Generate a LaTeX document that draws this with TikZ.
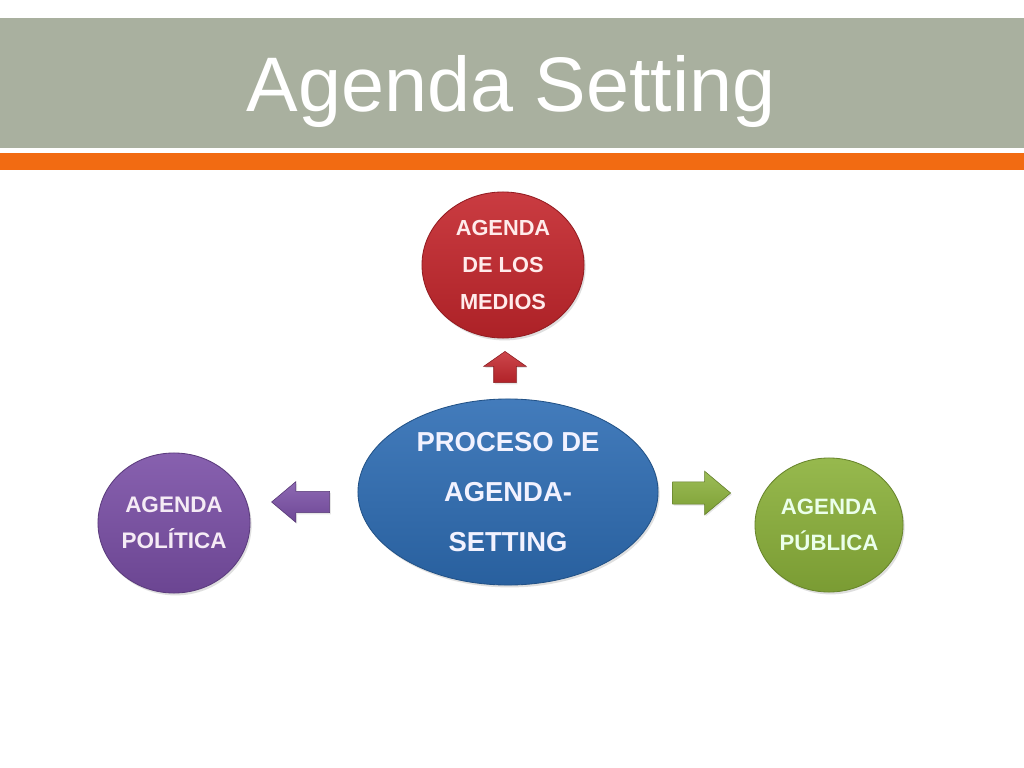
\documentclass[tikz,border=0pt]{standalone}
\usepackage{fontspec}
\setmainfont{Liberation Sans}
\usetikzlibrary{shapes.geometric,shapes.arrows,shadows}

\definecolor{barGray}{RGB}{169,176,159}
\definecolor{barOrange}{RGB}{242,107,18}
\definecolor{medRed}{RGB}{196,38,44}
\definecolor{procBlue}{RGB}{46,109,180}
\definecolor{polPurple}{RGB}{122,79,166}
\definecolor{pubGreen}{RGB}{139,177,58}

\begin{document}
\begin{tikzpicture}[x=0.025cm,y=-0.025cm,
  bubble/.style={ellipse,inner sep=0pt,align=center,font=\bfseries,
    draw=#1!75!black,line width=0.6pt,
    top color=#1!90!white,bottom color=#1!88!black,
    drop shadow={opacity=0.25,shadow xshift=0.04cm,shadow yshift=-0.06cm}},
  blockarrow/.style={single arrow,draw=#1!70!black,line width=0.4pt,
    top color=#1!85!white,bottom color=#1!90!black,
    drop shadow={opacity=0.2,shadow xshift=0.03cm,shadow yshift=-0.04cm}}]

  \useasboundingbox (0,0) rectangle (1024,768);
  \fill[white] (0,0) rectangle (1024,768);

  % title band
  \fill[barGray] (0,18) rectangle (1024,148);
  \fill[barOrange] (0,153) rectangle (1024,170);
  \node[anchor=base,text=white,font=\fontsize{55}{55}\selectfont] (title) at (511,112) {Agenda Setting};

  % bubbles
  \node[bubble=medRed,minimum width=4.05cm,minimum height=3.65cm,text=red!8!white,
        font=\bfseries\fontsize{15.5}{26}\selectfont] (medios) at (503,265)
        {AGENDA\\DE LOS\\MEDIOS};
  \node[bubble=procBlue,minimum width=7.5cm,minimum height=4.65cm,text=blue!5!white,
        font=\bfseries\fontsize{19.5}{35.5}\selectfont] (proceso) at (508,492)
        {PROCESO DE\\AGENDA-\\SETTING};
  \node[bubble=polPurple,minimum width=3.8cm,minimum height=3.5cm,text=violet!8!white,
        font=\bfseries\fontsize{16}{25.5}\selectfont] (politica) at (174,523)
        {AGENDA\\POLÍTICA};
  \node[bubble=pubGreen,minimum width=3.7cm,minimum height=3.35cm,text=green!8!white,
        font=\bfseries\fontsize{15.8}{25.5}\selectfont] (publica) at (829,525)
        {AGENDA\\PÚBLICA};

  % block arrows
  \node[blockarrow=medRed,shape border rotate=90,inner sep=0.275cm,minimum height=0.78cm,
        single arrow head extend=0.25cm,single arrow tip angle=110] (upArrow) at (505,371) {};
  \node[blockarrow=polPurple,shape border rotate=180,inner sep=0.26cm,minimum height=1.45cm,
        single arrow head extend=0.24cm,single arrow tip angle=80] (leftArrow) at (307,502) {};
  \node[blockarrow=pubGreen,inner sep=0.27cm,minimum height=1.45cm,
        single arrow head extend=0.27cm,single arrow tip angle=80] (rightArrow) at (695,493) {};

\end{tikzpicture}
\end{document}
